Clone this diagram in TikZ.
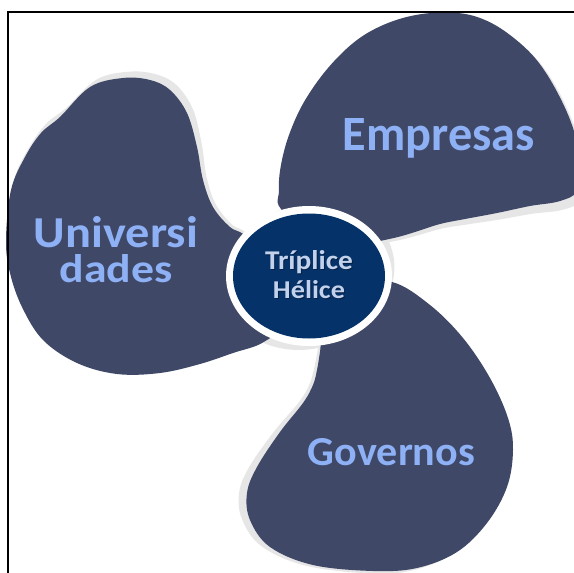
\documentclass[tikz,border=0pt]{standalone}
\usepackage{fontspec}
\setmainfont{Carlito}
\usepackage{graphicx}
\definecolor{blade}{HTML}{3F4867}
\definecolor{hub}{HTML}{053268}
\definecolor{lbl}{HTML}{8EB0F5}
\definecolor{hubtxt}{HTML}{C3D2EC}
\definecolor{hubshadow}{HTML}{021530}
\definecolor{shade}{HTML}{E6E6E6}
\newcommand\empPath{plot[smooth cycle, tension=0.6] coordinates {(345,248) (284,212) (279,190) (281,165) (289,135) (304,102) (328,68) (357,40) (388,23) (422,14) (458,13) (485,20) (510,35) (535,58) (555,88) (572,125) (580,160) (578,190) (560,201) (530,206) (497,213) (465,219) (440,224) (415,232) (398,237) (375,242)}}
\newcommand\govPath{plot[smooth cycle, tension=0.6] coordinates {(350,285) (392,282) (430,305) (463,338) (490,378) (508,418) (513,450) (507,487) (487,523) (457,552) (417,568) (373,571) (313,565) (270,547) (250,520) (247,493) (257,467) (280,432) (303,403) (313,385) (317,370) (320,352) (325,320)}}
\newcommand\uniPath{plot[smooth cycle, tension=0.6] coordinates {(60,117) (90,87) (123,78) (150,80) (170,90) (187,113) (197,147) (203,180) (213,207) (230,227) (248,238) (285,280) (280,325) (262,343) (233,353) (200,364) (160,373) (117,374) (77,363) (43,340) (22,307) (10,273) (6,240) (11,190) (25,157) (41,133)}}
\begin{document}
\begin{tikzpicture}[x=1pt,y=-1pt,
  bladefill/.style={fill=blade},
  shadowfill/.style={fill=shade},
  bladelabel/.style={text=lbl, font=\bfseries, inner sep=0pt, anchor=base},
  hublabel/.style={text=hubtxt, font=\bfseries, inner sep=0pt, anchor=base},
  hubshade/.style={text=hubshadow, opacity=0.6, font=\bfseries, inner sep=0pt, anchor=base}]
\useasboundingbox (0,0) rectangle (574,573);
\fill[white] (0,0) rectangle (574,573);
\begin{scope}
\clip (0,0) rectangle (574,573);
% shadows
\begin{scope}[rotate around={-2:(309,276)}]
  \fill[shadowfill] \empPath;
  \fill[shadowfill] \govPath;
  \fill[shadowfill] \uniPath;
\end{scope}
\fill[shadowfill, rotate around={20:(309,276)}] (309,276) ellipse [x radius=87, y radius=72];
% blades
\fill[bladefill] \empPath;
\fill[bladefill] \govPath;
\fill[bladefill] \uniPath;
% hub
\fill[white] (309,276) ellipse [x radius=83, y radius=70];
\fill[hub] (309,276) ellipse [x radius=76, y radius=62.5];
\end{scope}
% labels
\node[bladelabel] (emp) at (439,150) {\resizebox{192pt}{32pt}{Empresas}};
\node[text=lbl, font=\bfseries\fontsize{10}{35}\selectfont, inner sep=0pt, align=center, anchor=north] (uni) at (116,216)
  {\resizebox{164pt}{31pt}{Universi}\\\resizebox{113pt}{28pt}{dades}};
\node[bladelabel] (gov) at (391.5,465) {\resizebox{167pt}{27pt}{Governos}};
\node[hubshade] (t1s) at (310,270.5) {\resizebox{88pt}{19pt}{Tríplice}};
\node[hubshade] (t2s) at (310,299.5) {\resizebox{72pt}{18pt}{Hélice}};
\node[hublabel] (t1) at (309,269) {\resizebox{88pt}{19pt}{Tríplice}};
\node[hublabel] (t2) at (309,298) {\resizebox{72pt}{18pt}{Hélice}};
% frame
\coordinate (fbl) at (8,573);
\coordinate (ftl) at (8,12);
\coordinate (ftr) at (574,12);
\draw[line width=2pt, black] (fbl) -- (ftl) -- (ftr);
\end{tikzpicture}
\end{document}
